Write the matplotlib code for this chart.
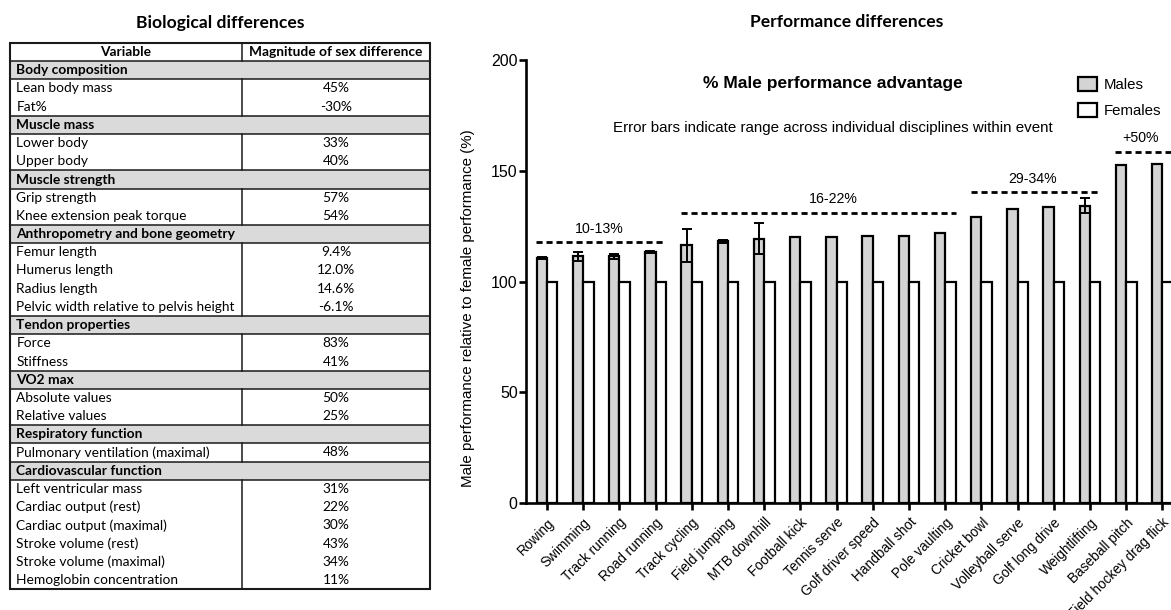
import numpy as np
import matplotlib
matplotlib.use("Agg")
import matplotlib.pyplot as plt
from matplotlib.patches import Rectangle, Patch

# ---- table data ----
sections = ["Body composition", "Muscle mass", "Muscle strength",
            "Anthropometry and bone geometry", "Tendon properties",
            "VO2 max", "Respiratory function", "Cardiovascular function"]
variables = [
    ["Lean body mass", "Fat%"],
    ["Lower body", "Upper body"],
    ["Grip strength", "Knee extension peak torque"],
    ["Femur length", "Humerus length", "Radius length",
     "Pelvic width relative to pelvis height"],
    ["Force", "Stiffness"],
    ["Absolute values", "Relative values"],
    ["Pulmonary ventilation (maximal)"],
    ["Left ventricular mass", "Cardiac output (rest)", "Cardiac output (maximal)",
     "Stroke volume (rest)", "Stroke volume (maximal)", "Hemoglobin concentration"],
]
magnitudes = [
    ["45%", "-30%"],
    ["33%", "40%"],
    ["57%", "54%"],
    ["9.4%", "12.0%", "14.6%", "-6.1%"],
    ["83%", "41%"],
    ["50%", "25%"],
    ["48%"],
    ["31%", "22%", "30%", "43%", "34%", "11%"],
]

# ---- bar chart data ----
events = ["Rowing", "Swimming", "Track running", "Road running", "Track cycling",
          "Field jumping", "MTB downhill", "Football kick", "Tennis serve",
          "Golf driver speed", "Handball shot", "Pole vaulting", "Cricket bowl",
          "Volleyball serve", "Golf long drive", "Weightlifting", "Baseball pitch",
          "Field hockey drag flick"]
males = [110.6, 111.3, 111.3, 113.3, 116.3, 118.1, 119.2, 120.1, 120.1,
         120.4, 120.5, 122.1, 129.3, 132.9, 133.7, 134.3, 152.5, 153.0]
male_err = [0.4, 2.0, 1.0, 0.4, 7.5, 0.5, 7.0, 0, 0,
            0, 0, 0, 0, 0, 0, 3.5, 0, 0]
females = [100] * len(events)

# bracket groups: (first event, last event, line level, label)
groups = [(0, 3, 117.7, "10-13%"),
          (4, 11, 131.1, "16-22%"),
          (12, 15, 140.3, "29-34%"),
          (16, 17, 158.5, "+50%")]
label_shift = [-0.05, 0.4, -0.1, -0.1]

W, H = 1171, 610
fig = plt.figure(figsize=(W / 100, H / 100), dpi=100)

# ---------------- table (pixel coordinates) ----------------
tab = fig.add_axes([0, 0, 1, 1])
tab.set_xlim(0, W)
tab.set_ylim(H, 0)
tab.axis("off")

TFONT = "Lato"
TSIZE = 9.9
x0, x1, xdiv = 9.5, 430, 242
y0, rh = 43, 18.2
lc = "#1a1a1a"

tab.text((x0 + x1) / 2, 23, "Biological differences", ha="center", va="center",
         fontsize=12.6, fontweight="bold", family=TFONT)

tab.text((x0 + xdiv) / 2, y0 + rh / 2, "Variable", ha="center", va="center",
         fontsize=TSIZE, fontweight="bold", family=TFONT)
tab.text((xdiv + x1) / 2, y0 + rh / 2, "Magnitude of sex difference", ha="center",
         va="center", fontsize=TSIZE, fontweight="bold", family=TFONT)
tab.plot([xdiv, xdiv], [y0, y0 + rh], color=lc, lw=1.1)
row = 1
for sec, vs, ms in zip(sections, variables, magnitudes):
    yt = y0 + row * rh
    tab.add_patch(Rectangle((x0, yt), x1 - x0, rh, facecolor="#dadada",
                            edgecolor="none", zorder=0))
    tab.plot([x0, x1], [yt, yt], color=lc, lw=1.1)
    tab.plot([x0, x1], [yt + rh, yt + rh], color=lc, lw=1.1)
    tab.text(x0 + 7, yt + rh / 2, sec, ha="left", va="center", fontsize=TSIZE,
             fontweight="bold", family=TFONT)
    row += 1
    yb = y0 + row * rh
    for k, (v, m) in enumerate(zip(vs, ms)):
        yc = y0 + (row + k) * rh + rh / 2
        tab.text(x0 + 7, yc, v, ha="left", va="center", fontsize=TSIZE, family=TFONT)
        tab.text((xdiv + x1) / 2, yc, m, ha="center", va="center", fontsize=TSIZE,
                 family=TFONT)
    row += len(vs)
    tab.plot([xdiv, xdiv], [yb, y0 + row * rh], color=lc, lw=1.1)
y_end = y0 + row * rh
tab.add_patch(Rectangle((x0, y0), x1 - x0, y_end - y0, facecolor="none",
                        edgecolor=lc, lw=1.5, zorder=3))

tab.text(847, 22, "Performance differences", ha="center", va="center",
         fontsize=12.6, fontweight="bold", family=TFONT)

# ---------------- bar chart ----------------
AF = "Liberation Sans"
ax_l, ax_r, ax_t, ax_b = 526, W, 60, 503
ax = fig.add_axes([ax_l / W, (H - ax_b) / H, (ax_r - ax_l) / W, (ax_b - ax_t) / H])
step = 36.2
ax.set_xlim(-21 / step, (ax_r - 547) / step)
ax.set_ylim(0, 200)

x = np.arange(len(events))
bw = 0.29
ax.bar(x - bw / 2, males, bw, color="#d4d4d4", edgecolor="black", lw=1.6,
       label="Males", zorder=2)
ax.bar(x + bw / 2, females, bw, color="white", edgecolor="black", lw=1.6,
       label="Females", zorder=2)
err = np.array(male_err)
has = err > 0
ax.errorbar(x[has] - bw / 2, np.array(males)[has], yerr=err[has], fmt="none",
            ecolor="black", elinewidth=1.4, capsize=3.5, capthick=1.4, zorder=3)

for (a, b, lvl, lab), dx in zip(groups, label_shift):
    ax.plot([a - 0.3, b + 0.3], [lvl, lvl], color="black", lw=2,
            ls=(0, (2.2, 1.4)), zorder=3)
    ax.text((a + b) / 2 + dx, lvl + 3, lab, ha="center", va="bottom",
            fontsize=10.2, family=AF)

ax.text(7.9, 189.6, "% Male performance advantage", ha="center", va="center",
        fontsize=12.5, fontweight="bold", family=AF)
ax.text(7.9, 169.5, "Error bars indicate range across individual disciplines within event",
        ha="center", va="center", fontsize=10.9, family=AF)

ax.legend(handles=[Patch(facecolor="#d4d4d4", edgecolor="black", lw=1.6),
                   Patch(facecolor="white", edgecolor="black", lw=1.6)],
          labels=["Males", "Females"], loc="upper left",
          bbox_to_anchor=(1078 / W, (H - 77) / H), bbox_transform=fig.transFigure,
          frameon=False, handlelength=1.27, handleheight=1.07, labelspacing=0.7,
          handletextpad=0.45, borderaxespad=0, borderpad=0,
          prop={"family": AF, "size": 10.8})

for s in ["top", "right"]:
    ax.spines[s].set_visible(False)
for s in ["left", "bottom"]:
    ax.spines[s].set_linewidth(1.9)
ax.set_yticks([0, 50, 100, 150, 200])
ax.tick_params(axis="y", length=5, width=1.9, pad=1, labelsize=11.5,
               labelfontfamily=AF)
ax.set_xticks(x)
ax.set_xticklabels(events, rotation=45, ha="right", rotation_mode="anchor",
                   fontsize=9.8, family=AF)
ax.tick_params(axis="x", length=5, width=1.9, pad=4)
ax.set_ylabel("Male performance relative to female performance (%)",
              fontsize=10.9, family=AF)
ax.yaxis.set_label_coords((475 - ax_l) / (ax_r - ax_l), (ax_b - 308) / (ax_b - ax_t))

fig.savefig("out.png", dpi=100)
